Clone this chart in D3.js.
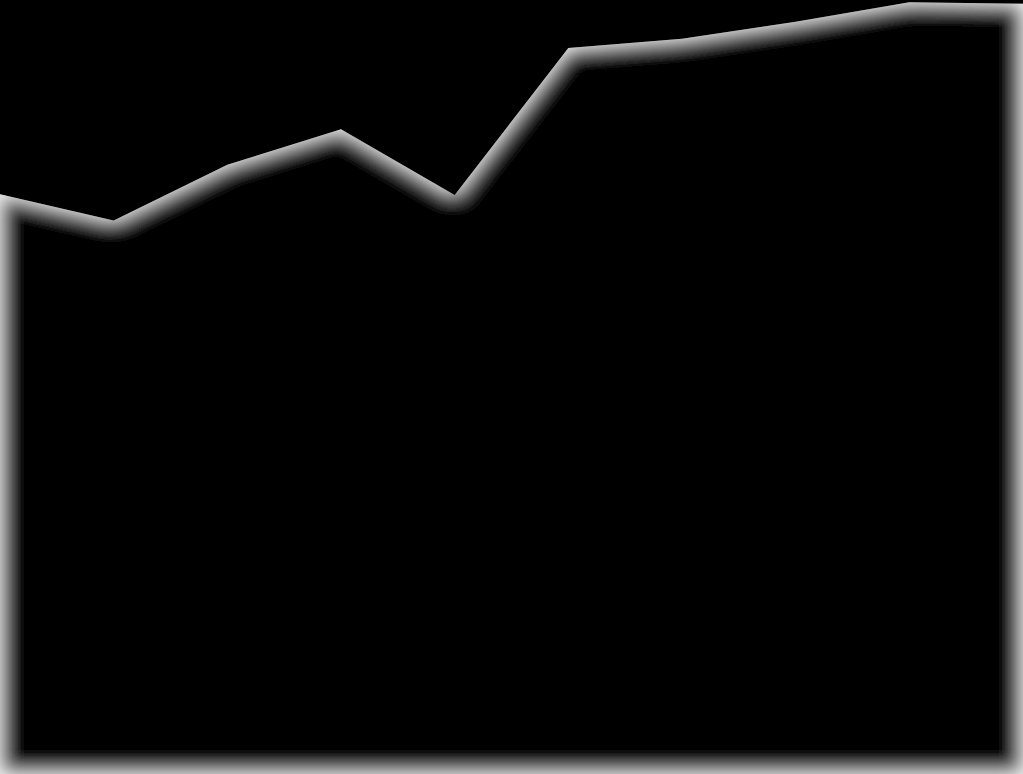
<!DOCTYPE html>
<html lang="en">
<head>
    <meta charset="UTF-8">
    <title>Area with inner glow</title>
    <script src="https://d3js.org/d3.v7.min.js"></script>
    <style>
      html, body { margin: 0; padding: 0; background: #000; overflow: hidden; }
    </style>
</head>
<body>
    <script>
      // Data
      const categories = [0, 1, 2, 3, 4, 5, 6, 7, 8, 9];
      const values = [74.9, 71.5, 78.7, 83.3, 74.8, 93.8, 95.0, 97.2, 99.7, 99.5];

      const width = 1023, height = 774;

      const svg = d3.select("body").append("svg")
        .attr("width", width)
        .attr("height", height)
        .style("display", "block");

      svg.append("rect")
        .attr("width", width)
        .attr("height", height)
        .attr("fill", "#000");

      // inner glow filter
      const defs = svg.append("defs");
      const filter = defs.append("filter")
        .attr("id", "innerGlow")
        .attr("filterUnits", "userSpaceOnUse")
        .attr("x", -100).attr("y", -100)
        .attr("width", width + 200).attr("height", height + 200);

      filter.append("feFlood").attr("flood-color", "#d8d8d8").attr("result", "flood");
      filter.append("feComposite")
        .attr("in", "flood").attr("in2", "SourceAlpha")
        .attr("operator", "out").attr("result", "outside");
      filter.append("feGaussianBlur")
        .attr("in", "outside").attr("stdDeviation", 10).attr("result", "blur");
      filter.append("feComponentTransfer")
        .attr("in", "blur").attr("result", "boost")
        .append("feFuncA").attr("type", "linear").attr("slope", 1.45);
      filter.append("feComposite")
        .attr("in", "boost").attr("in2", "SourceAlpha")
        .attr("operator", "in").attr("result", "inner");
      const merge = filter.append("feMerge");
      merge.append("feMergeNode").attr("in", "SourceGraphic");
      merge.append("feMergeNode").attr("in", "inner");

      const x = d3.scaleLinear()
        .domain(d3.extent(categories))
        .range([0, width]);

      const y = d3.scaleLinear()
        .domain([0, 100])
        .range([height, 0]);

      const area = d3.area()
        .x((d, i) => x(categories[i]))
        .y0(height)
        .y1(d => y(d));

      svg.append("path")
        .datum(values)
        .attr("d", area)
        .attr("fill", "#000")
        .attr("filter", "url(#innerGlow)");
    </script>
</body>
</html>
